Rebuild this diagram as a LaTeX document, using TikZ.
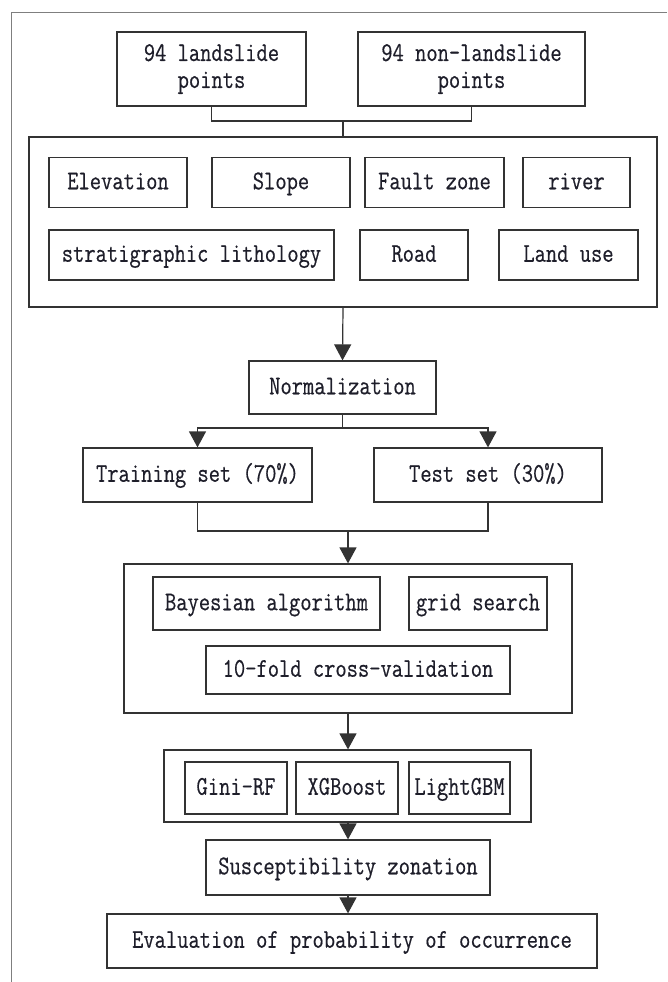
\documentclass[tikz,border=0pt]{standalone}
\usepackage{fontspec}
\usetikzlibrary{arrows.meta}
\newfontfamily\flowfont[FakeStretch=0.811,FakeBold=0.5]{Latin Modern Mono}
\definecolor{boxline}{HTML}{333333}
\definecolor{frameline}{HTML}{7F7F7F}
\definecolor{boxtext}{HTML}{1E1E2A}

\begin{document}
\begin{tikzpicture}[x=1pt,y=-1pt,
  box/.style={draw=boxline, line width=1.2pt, rectangle, inner sep=0pt, text=boxtext,
    font=\flowfont\fontsize{27}{27}\selectfont, align=center},
  line/.style={box, text height=19pt, text depth=5.5pt},
  group/.style={draw=boxline, line width=1.2pt, rectangle, inner sep=0pt},
  link/.style={draw=boxline, line width=1.2pt},
  arr/.style={link, -{Triangle[width=17pt,length=16pt]}}]
\useasboundingbox (0,0) rectangle (667,982);

% frame of the page, cut off on the right
\draw[frameline, line width=1pt] (667,13) -- (11,13) -- (11,982);

% samples
\node[box, minimum width=189pt, minimum height=74pt] (land) at (211.5,69) {94 landslide\\points};
\node[box, minimum width=227pt, minimum height=74pt] (nonland) at (471.5,69) {94 non-landslide\\points};

% factors
\node[group, minimum width=628pt, minimum height=170pt] (factors) at (343,222) {};
\foreach \nm/\cx/\cy/\w/\txt in {elev/118/182.5/138/Elevation, slope/281/182.5/138/Slope,
    fault/434.5/182.5/139/Fault zone, river/576.5/182.5/107/river,
    strat/191.5/255/285/stratigraphic lithology, road/414/255/108/Road,
    landuse/568.5/255/139/Land use} {
  \node[line, minimum width=\w pt, minimum height=50pt] (\nm) at (\cx,\cy) {\txt};
}

\coordinate (join) at (343,121);
\draw[link] (land.south) |- (join) -| (nonland.south);
\draw[link] (join) -- (factors.north);

% normalization and split
\node[line, minimum width=187pt, minimum height=53pt] (norm) at (342.5,387.5) {Normalization};
\draw[arr] (factors.south) -- (norm.north);

\node[line, minimum width=229pt, minimum height=54pt] (train) at (197.5,475) {Training set (70\%)};
\node[line, minimum width=228pt, minimum height=54pt] (test) at (488,475) {Test set (30\%)};
\coordinate (split) at (342.5,428);
\draw[link] (norm.south) -- (split);
\draw[arr] (split) -| (train.north);
\draw[arr] (split) -| (test.north);

% tuning
\node[group, minimum width=448pt, minimum height=149pt] (tuning) at (348,638.5) {};
\node[line, minimum width=227pt, minimum height=53pt] (bayes) at (266.5,603.5) {Bayesian algorithm};
\node[line, minimum width=138pt, minimum height=53pt] (grid) at (478,603.5) {grid search};
\node[line, minimum width=304pt, minimum height=48pt] (cv) at (358,670) {10-fold cross-validation};

\coordinate (merge) at (348,531);
\draw[link] (train.south) |- (merge);
\draw[link] (test.south) |- (merge);
\draw[arr] (merge) -- (tuning.north);

% models
\node[group, minimum width=367pt, minimum height=72pt] (models) at (347.5,786) {};
\foreach \nm/\cx/\w/\txt in {gini/236/102/Gini-RF, xgb/347/102/XGBoost, lgbm/459.5/101/LightGBM} {
  \node[line, minimum width=\w pt, minimum height=52pt] (\nm) at (\cx,788) {\txt};
}
\draw[arr] (tuning.south) -- (tuning.south |- models.north);

% results
\node[line, minimum width=284pt, minimum height=55pt] (zone) at (348,867.5) {Susceptibility zonation};
\node[line, minimum width=490pt, minimum height=54pt] (eval) at (352,941) {Evaluation of probability of occurrence};
\draw[arr] (models.south -| zone.north) -- (zone.north);
\draw[arr] (zone.south) -- (zone.south |- eval.north);
\end{tikzpicture}
\end{document}
